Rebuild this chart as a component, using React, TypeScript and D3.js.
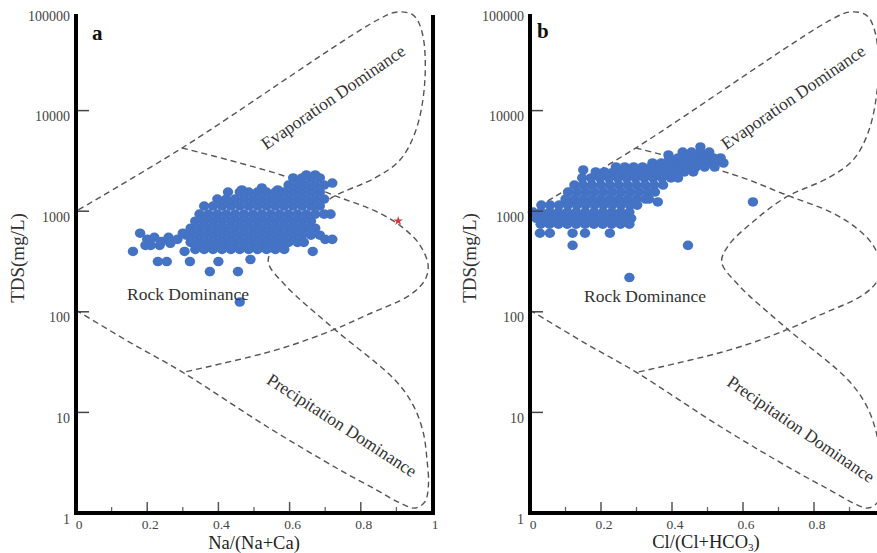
import React from "react";
import * as d3 from "d3";

const W = 877;
const H = 553;
const FONT = "'Liberation Serif','Times New Roman',Times,serif";
const DOT = "#4472C4";

// Gibbs diagram envelope, shared by both panels: [ratio, TDS mg/L]
const outerBoundary: [number, number][] = [
  [0.0, 104], [0.15, 50], [0.3, 25], [0.537, 7.2], [0.742, 2.67], [0.845, 1.69],
  [0.91, 1.26], [0.952, 1.12], [0.98, 1.29], [0.99, 1.9], [0.986, 3.37], [0.975, 6.4],
  [0.947, 11.8], [0.896, 21], [0.722, 69], [0.587, 185], [0.54, 313], [0.56, 461],
  [0.63, 795], [0.722, 1385], [0.84, 2140], [0.91, 3230], [0.955, 6410], [0.98, 20000],
  [0.972, 60500], [0.947, 89000], [0.902, 95500], [0.848, 80000], [0.298, 4250], [0.0, 1000],
];
const innerBoundary: [number, number][] = [
  [0.298, 4250], [0.46, 3015], [0.593, 2190], [0.722, 1450], [0.854, 955], [0.924, 660],
  [0.966, 461], [0.989, 292], [0.98, 207], [0.938, 147], [0.817, 93], [0.722, 66],
  [0.565, 42], [0.3, 25],
];

// Axis ticks
const yTicks = [1, 10, 100, 1000, 10000, 100000];
const yMinorTicks = [10, 100, 1000, 10000];
const xTicksA = [0, 0.2, 0.4, 0.6, 0.8, 1];
const xTicksB = [0, 0.2, 0.4, 0.6, 0.8];
const xMinorTicks = [0.1, 0.3, 0.5, 0.7, 0.9];

// Panel a: Na/(Na+Ca) vs TDS, rows of samples [TDS, ratios]
const clusterRowsA: [number, number[]][] = [
  [2290, [0.647, 0.672]],
  [2140, [0.61, 0.635, 0.66, 0.685]],
  [1820, [0.597, 0.622, 0.647, 0.672, 0.697]],
  [1625, [0.466, 0.567]],
  [1700, [0.522]],
  [1550, [0.427, 0.46, 0.485, 0.51, 0.535, 0.56, 0.585, 0.61, 0.635, 0.66, 0.685]],
  [1320, [0.397, 0.422, 0.447, 0.472, 0.497, 0.522, 0.547, 0.572, 0.597, 0.622, 0.647, 0.672, 0.697]],
  [1125, [0.36, 0.385, 0.41, 0.435, 0.46, 0.485, 0.51, 0.535, 0.56, 0.585, 0.61, 0.635, 0.66, 0.685]],
  [935, [0.347, 0.372, 0.397, 0.422, 0.447, 0.472, 0.497, 0.522, 0.547, 0.572, 0.597, 0.622, 0.647, 0.672, 0.697, 0.715]],
  [795, [0.335, 0.36, 0.385, 0.41, 0.435, 0.46, 0.485, 0.51, 0.535, 0.56, 0.585, 0.61, 0.635, 0.66]],
  [678, [0.322, 0.347, 0.372, 0.397, 0.422, 0.447, 0.472, 0.497, 0.522, 0.547, 0.572, 0.597, 0.622, 0.647, 0.672]],
  [577, [0.31, 0.335, 0.36, 0.385, 0.41, 0.435, 0.46, 0.485, 0.51, 0.535, 0.56, 0.585, 0.61, 0.635, 0.66, 0.685]],
  [525, [0.7, 0.72]],
  [490, [0.322, 0.347, 0.372, 0.397, 0.422, 0.447, 0.472, 0.497, 0.522, 0.547, 0.572, 0.597, 0.622, 0.64]],
  [417, [0.335, 0.36, 0.385, 0.41, 0.435, 0.46, 0.485, 0.51, 0.535, 0.56, 0.585]],
];
const scatterA: [number, number][] = [
  [0.72, 1905], [0.16, 398], [0.305, 398], [0.665, 398],
  [0.18, 604], [0.2, 525], [0.22, 550], [0.24, 500], [0.265, 480], [0.285, 525],
  [0.3, 604], [0.21, 457], [0.195, 457], [0.235, 457], [0.26, 550],
  [0.23, 316], [0.255, 316], [0.32, 316], [0.4, 316], [0.49, 331],
  [0.376, 251], [0.455, 251], [0.46, 125],
];
const starA: [number, number] = [0.905, 800];

// Panel b: Cl/(Cl+HCO3) vs TDS
const clusterRowsB: [number, number[]][] = [
  [4350, [0.48]],
  [3875, [0.43, 0.455, 0.48, 0.505]],
  [3620, [0.39]],
  [3380, [0.392, 0.417, 0.442, 0.467, 0.492, 0.517, 0.537]],
  [3015, [0.345, 0.37, 0.395, 0.42, 0.445, 0.47, 0.495, 0.52, 0.545]],
  [2750, [0.242, 0.267, 0.292, 0.317, 0.342, 0.367, 0.392, 0.417, 0.442, 0.467, 0.492, 0.52]],
  [2570, [0.15]],
  [2455, [0.185, 0.21, 0.235, 0.26, 0.285, 0.31, 0.335, 0.36, 0.385, 0.41, 0.435, 0.46]],
  [2140, [0.147, 0.172, 0.197, 0.222, 0.247, 0.272, 0.297, 0.322, 0.347, 0.372, 0.397, 0.417]],
  [1820, [0.125, 0.15, 0.175, 0.2, 0.225, 0.25, 0.275, 0.3, 0.325, 0.35, 0.375]],
  [1550, [0.107, 0.132, 0.157, 0.182, 0.207, 0.232, 0.257, 0.282, 0.307, 0.332, 0.352]],
  [1320, [0.1, 0.125, 0.15, 0.175, 0.2, 0.225, 0.25, 0.275, 0.3, 0.325, 0.335]],
  [1235, [0.36]],
  [1150, [0.032, 0.057, 0.082, 0.107, 0.132, 0.157, 0.182, 0.207, 0.232, 0.257, 0.282, 0.302]],
  [980, [0.008, 0.03, 0.055, 0.08, 0.105, 0.13, 0.155, 0.18, 0.205, 0.23, 0.255, 0.28]],
  [850, [0.018, 0.042, 0.067, 0.092, 0.117, 0.142, 0.167, 0.192, 0.217, 0.242, 0.267, 0.285]],
  [743, [0.03, 0.055, 0.08, 0.105, 0.13, 0.155, 0.18, 0.205, 0.23, 0.255, 0.28]],
];
const scatterB: [number, number][] = [
  [0.028, 604], [0.056, 604], [0.12, 604], [0.155, 604], [0.225, 604],
  [0.12, 457], [0.445, 457], [0.628, 1235], [0.28, 219],
];

const yScale = d3.scaleLog().domain([1, 100000]).range([513, 10]);
const lineGen = (x: d3.ScaleLinear<number, number>) =>
  d3
    .line<[number, number]>()
    .x((d) => x(d[0]))
    .y((d) => yScale(d[1]))
    .curve(d3.curveCatmullRom.alpha(0.5));

const flatten = (rows: [number, number[]][]) =>
  rows.flatMap(([tds, xs]) => xs.map((r) => [r, tds] as [number, number]));

type PanelProps = {
  x: d3.ScaleLinear<number, number>;
  xTicks: number[];
  rightEdge: number;
  border: boolean;
  letter: string;
  letterPos: [number, number];
  yTitleX: number;
  xTitle: React.ReactNode;
  xTitleX: number;
  xTitleY: number;
  points: [number, number][];
  star?: [number, number];
  labels: {
    evap: [number, number, number];
    rock: [number, number];
    precip: [number, number, number];
  };
};

function Panel(p: PanelProps) {
  const x0 = p.x(0);
  const line = lineGen(p.x);
  const fmt = (v: number) => (v === 0 ? "0" : v === 1 ? "1" : String(v));
  const starPath = d3.symbol().type(d3.symbolStar).size(28)() as string;
  return (
    <g>
      <path d={line(outerBoundary) as string} fill="none" stroke="#555" strokeWidth={1.4} strokeDasharray="6 4" />
      <path d={line(innerBoundary) as string} fill="none" stroke="#555" strokeWidth={1.4} strokeDasharray="6 4" />
      {p.points.map((d, i) => (
        <ellipse key={i} cx={p.x(d[0])} cy={yScale(d[1])} rx={5.2} ry={4.8} fill={DOT} />
      ))}
      {p.star && (
        <path d={starPath} transform={`translate(${p.x(p.star[0])},${yScale(p.star[1])})`} fill="#d23a3a" />
      )}
      {xMinorTicks.map((t) => (
        <line key={"mx" + t} x1={p.x(t)} x2={p.x(t)} y1={513} y2={507} stroke="#666" strokeWidth={1.3} />
      ))}
      {p.xTicks.filter((t) => t > 0 && t < 1).map((t) => (
        <line key={"x" + t} x1={p.x(t)} x2={p.x(t)} y1={513} y2={502} stroke="#555" strokeWidth={1.5} />
      ))}
      {yMinorTicks.map((t) => (
        <line key={"y" + t} x1={x0} x2={x0 + 13} y1={yScale(t)} y2={yScale(t)} stroke="#444" strokeWidth={1.5} />
      ))}
      <line x1={x0} x2={x0} y1={14} y2={515} stroke="#000" strokeWidth={4} />
      <line x1={x0 - 2} x2={p.rightEdge} y1={513} y2={513} stroke="#000" strokeWidth={4} />
      {p.border && <line x1={p.rightEdge} x2={p.rightEdge} y1={15} y2={515} stroke="#000" strokeWidth={4} />}
      {yTicks.map((t) => (
        <text key={"yl" + t} x={x0 - 6} y={yScale(t) + 10.5} textAnchor="end" fontSize={14} fill="#444" fontFamily={FONT}>
          {t}
        </text>
      ))}
      {p.xTicks.map((t) => (
        <text key={"xl" + t} x={p.x(t) + 3} y={528.5} textAnchor="middle" fontSize={13.5} fill="#444" fontFamily={FONT}>
          {fmt(t)}
        </text>
      ))}
      <text x={p.xTitleX} y={p.xTitleY} textAnchor="middle" fontSize={18.5} fill="#222" fontFamily={FONT}>
        {p.xTitle}
      </text>
      <text
        transform={`translate(${p.yTitleX},258) rotate(-90)`}
        textAnchor="middle"
        fontSize={19}
        fill="#333"
        fontFamily={FONT}
      >
        TDS(mg/L)
      </text>
      <text x={p.letterPos[0]} y={p.letterPos[1]} fontSize={21} fontWeight="bold" fill="#111" fontFamily={FONT}>
        {p.letter}
      </text>
      <text
        transform={`translate(${p.labels.evap[0]},${p.labels.evap[1]}) rotate(${p.labels.evap[2]})`}
        textAnchor="middle"
        dy="0.35em"
        fontSize={17.5}
        fill="#333"
        fontFamily={FONT}
      >
        Evaporation Dominance
      </text>
      <text x={p.labels.rock[0]} y={p.labels.rock[1]} textAnchor="middle" fontSize={17.5} fill="#333" fontFamily={FONT}>
        Rock Dominance
      </text>
      <text
        transform={`translate(${p.labels.precip[0]},${p.labels.precip[1]}) rotate(${p.labels.precip[2]})`}
        textAnchor="middle"
        dy="0.35em"
        fontSize={17.5}
        fill="#333"
        fontFamily={FONT}
      >
        Precipitation Dominance
      </text>
    </g>
  );
}

export default function App() {
  const xA = d3.scaleLinear().domain([0, 1]).range([76, 432]);
  const xB = d3.scaleLinear().domain([0, 1]).range([530, 885]);
  const ptsA = [...flatten(clusterRowsA), ...scatterA];
  const ptsB = [...flatten(clusterRowsB), ...scatterB];
  return (
    <svg
      width={W}
      height={H}
      viewBox={`0 0 ${W} ${H}`}
      style={{ position: "absolute", left: 0, top: 0, display: "block" }}
    >
      <rect x={0} y={0} width={W} height={H} fill="#fff" />
      <Panel
        x={xA}
        xTicks={xTicksA}
        rightEdge={433}
        border={true}
        letter="a"
        letterPos={[92, 40]}
        yTitleX={24}
        xTitle="Na/(Na+Ca)"
        xTitleX={254}
        xTitleY={549}
        points={ptsA}
        star={starA}
        labels={{ evap: [333, 97, -34.5], rock: [188, 300], precip: [342, 425, 33] }}
      />
      <Panel
        x={xB}
        xTicks={xTicksB}
        rightEdge={877}
        border={false}
        letter="b"
        letterPos={[537, 38]}
        yTitleX={476}
        xTitle={
          <>
            Cl/(Cl+HCO<tspan fontSize={11} dy={2.5}>3</tspan>
            <tspan dy={-2.5}>)</tspan>
          </>
        }
        xTitleX={706}
        xTitleY={548}
        points={ptsB}
        labels={{ evap: [793, 97, -34.5], rock: [645, 302], precip: [801, 429, 34.5] }}
      />
    </svg>
  );
}
